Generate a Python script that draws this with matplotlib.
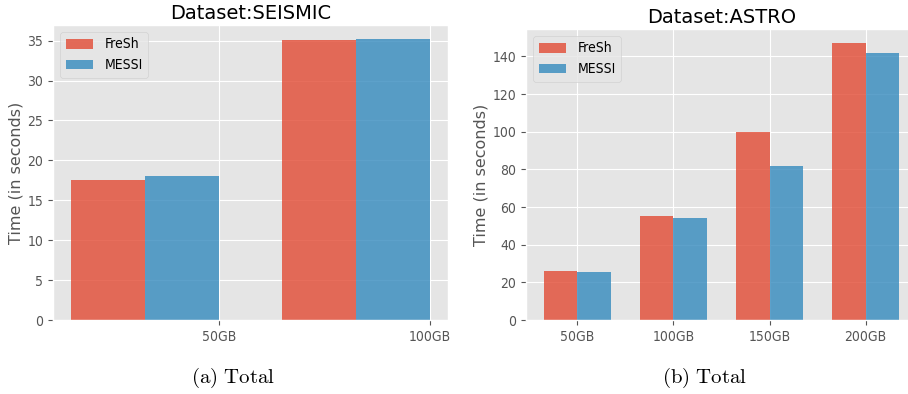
import numpy as np
import matplotlib
matplotlib.use('Agg')
import matplotlib.pyplot as plt

plt.style.use('ggplot')
plt.rcParams['mathtext.fontset'] = 'cm'
plt.rcParams['font.stretch'] = 'condensed'

# Data
seismic_sizes = ['50GB', '100GB']
seismic_fresh = [17.6, 35.1]
seismic_messi = [18.0, 35.2]

astro_sizes = ['50GB', '100GB', '150GB', '200GB']
astro_fresh = [25.9, 55.2, 99.9, 147.2]
astro_messi = [25.5, 54.3, 82.0, 141.7]

width = 0.35

fig = plt.figure(figsize=(9.08, 3.94), dpi=100)

# (a) SEISMIC
ax1 = fig.add_axes([53/908, 1 - 320/394, 395/908, 295/394])
x = np.arange(len(seismic_sizes))
ax1.bar(x - 1.5*width, seismic_fresh, width, label='FreSh', alpha=0.8)
ax1.bar(x - 0.5*width, seismic_messi, width, label='MESSI', alpha=0.8)
ax1.set_xticks(x)
ax1.set_xticklabels(seismic_sizes, fontsize=10)
ax1.tick_params(axis='y', labelsize=10)
ax1.set_ylabel('Time (in seconds)', fontsize=11.5, fontstretch='normal', labelpad=3)
ax1.set_title('Dataset:SEISMIC', fontsize=14, fontstretch='normal', pad=4)
ax1.legend(loc='upper left', fontsize=10)

# (b) ASTRO
ax2 = fig.add_axes([526/908, 1 - 320/394, 391/908, 291/394])
x = np.arange(len(astro_sizes))
ax2.bar(x - width/2, astro_fresh, width, label='FreSh', alpha=0.8)
ax2.bar(x + width/2, astro_messi, width, label='MESSI', alpha=0.8)
ax2.set_xticks(x)
ax2.set_xticklabels(astro_sizes, fontsize=10)
ax2.tick_params(axis='y', labelsize=10)
ax2.set_ylabel('Time (in seconds)', fontsize=11.5, fontstretch='normal', labelpad=3)
ax2.set_title('Dataset:ASTRO', fontsize=14, fontstretch='normal', pad=4)
ax2.legend(loc='upper left', fontsize=10)

# captions
fig.text(233/908, 1 - 378/394, r'$\mathrm{(a)\ Total}$', ha='center', va='center', fontsize=15)
fig.text(705/908, 1 - 378/394, r'$\mathrm{(b)\ Total}$', ha='center', va='center', fontsize=15)

fig.savefig('out.png', dpi=100, facecolor='white')
